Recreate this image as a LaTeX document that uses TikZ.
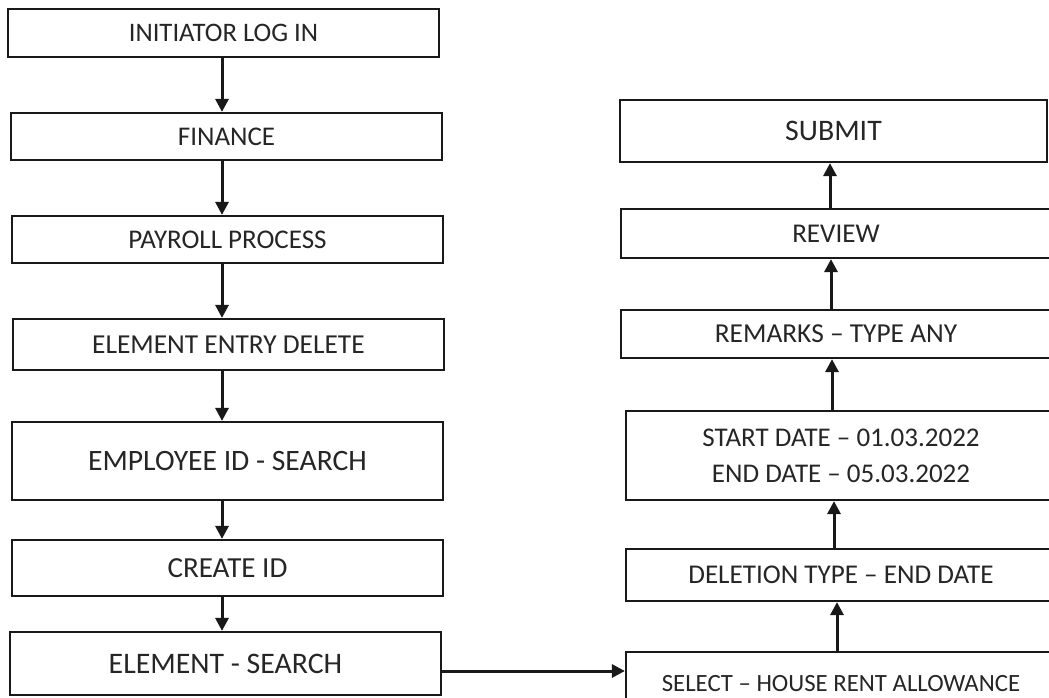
\documentclass[tikz,border=0pt]{standalone}
\usepackage{fontspec}
\setmainfont{Carlito}
\usetikzlibrary{arrows.meta}
\begin{document}
\begin{tikzpicture}[x=1pt,y=-1pt,
  box/.style={draw=black!90, line width=2.2pt, fill=white, inner sep=0pt, text=black!85},
  arr/.style={line width=3pt, black!90, -{Triangle[length=13pt,width=13pt]}},
  fs/.style={font=\fontsize{#1}{#1}\selectfont}]
\useasboundingbox (0,0) rectangle (1049,698);
\clip (0,0) rectangle (1049,698);
\fill[white] (0,0) rectangle (1049,698);
% left column
\node[box,fs=26.7,minimum width=431,minimum height=48] (init) at (223.5,33) {INITIATOR LOG IN};
\node[box,fs=27,minimum width=431,minimum height=47] (fin) at (226.5,136.5) {FINANCE};
\node[box,fs=27,minimum width=431,minimum height=47] (pay) at (227.5,239.5) {PAYROLL PROCESS};
\node[box,fs=27.4,minimum width=431,minimum height=51] (eed) at (228.5,344.5) {ELEMENT ENTRY DELETE};
\node[box,fs=29.6,minimum width=431,minimum height=78] (emp) at (227.5,461) {EMPLOYEE ID - SEARCH};
\node[box,fs=29.1,minimum width=431,minimum height=56] (cid) at (227.5,568) {CREATE ID};
\node[box,fs=29.8,minimum width=431,minimum height=63] (es) at (225.5,663.5) {ELEMENT - SEARCH};
% right column
\node[box,fs=29.8,minimum width=427,minimum height=62] (sub) at (833.5,131) {SUBMIT};
\node[box,fs=27.1,minimum width=430,minimum height=49] (rev) at (836,233.5) {REVIEW};
\node[box,fs=27.4,minimum width=430,minimum height=48] (rem) at (836,334) {REMARKS -- TYPE ANY};
\node[box,font=\fontsize{27}{36}\selectfont,align=center,minimum width=430,minimum height=89] (sd) at (841,455.5) {START DATE -- 01.03.2022\\END DATE -- 05.03.2022};
\node[box,fs=27.1,minimum width=430,minimum height=52] (del) at (841,575) {DELETION TYPE -- END DATE};
\node[box,fs=24.8,minimum width=430,minimum height=64] (sel) at (841,684) {SELECT -- HOUSE RENT ALLOWANCE};
% arrow guide coordinates
\coordinate (ax) at (222,0);
\coordinate (r1) at (830,0);
\coordinate (r2) at (831,0);
\coordinate (r3) at (832,0);
\coordinate (r4) at (834,0);
\coordinate (r5) at (837,0);
\coordinate (hy) at (0,671);
% left arrows
\draw[arr] (init.south -| ax) -- (fin.north -| ax);
\draw[arr] (fin.south -| ax) -- (pay.north -| ax);
\draw[arr] (pay.south -| ax) -- (eed.north -| ax);
\draw[arr] (eed.south -| ax) -- (emp.north -| ax);
\draw[arr] (emp.south -| ax) -- (cid.north -| ax);
\draw[arr] (cid.south -| ax) -- (es.north -| ax);
% cross arrow
\draw[arr] (es.east |- hy) -- (sel.west |- hy);
% right arrows
\draw[arr] (sel.north -| r5) -- (del.south -| r5);
\draw[arr] (del.north -| r4) -- (sd.south -| r4);
\draw[arr] (sd.north -| r3) -- (rem.south -| r3);
\draw[arr] (rem.north -| r2) -- (rev.south -| r2);
\draw[arr] (rev.north -| r1) -- (sub.south -| r1);
\end{tikzpicture}
\end{document}
